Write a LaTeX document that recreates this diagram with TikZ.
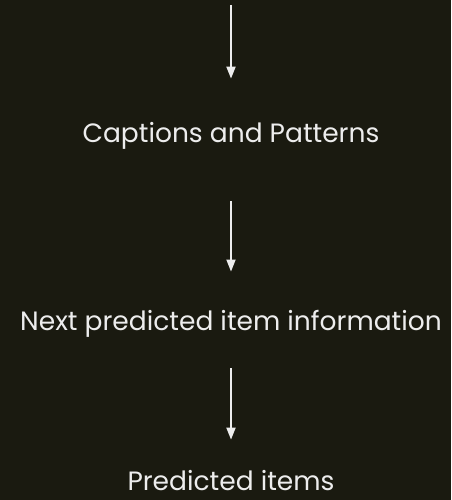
\documentclass[tikz,border=0pt]{standalone}
\usepackage{fontspec}
\setmainfont{Poppins}
\usetikzlibrary{arrows.meta}
\definecolor{bgdark}{HTML}{1A1A10}
\definecolor{fgtext}{HTML}{EDEDED}

\begin{document}
\begin{tikzpicture}[x=1pt, y=-1pt, every node/.style={font=\fontsize{26.5}{32}\selectfont}]
  % Styles
  \tikzset{
    stage/.style = {text=fgtext, inner sep=0pt, anchor=base},
    flow/.style = {-{Triangle[length=12pt, width=9pt]}, draw=fgtext, line width=1.8pt}
  }

  % Background
  \fill[bgdark] (0,0) rectangle (451,500);

  % Stages
  \coordinate (start) at (231,5);
  \node[stage] (captions) at (231,142) {Captions and Patterns};
  \node[stage] (nextinfo) at (231,330) {Next predicted item information};
  \node[stage] (predicted) at (231,490) {Predicted items};

  % Connections
  \draw[flow, shorten >=43pt] (start) -- (captions.north);
  \draw[flow, shorten <=52pt, shorten >=38pt] (captions.south) -- (nextinfo.north);
  \draw[flow, shorten <=31pt, shorten >=30pt] (nextinfo.south) -- (predicted.north);

\end{tikzpicture}
\end{document}
